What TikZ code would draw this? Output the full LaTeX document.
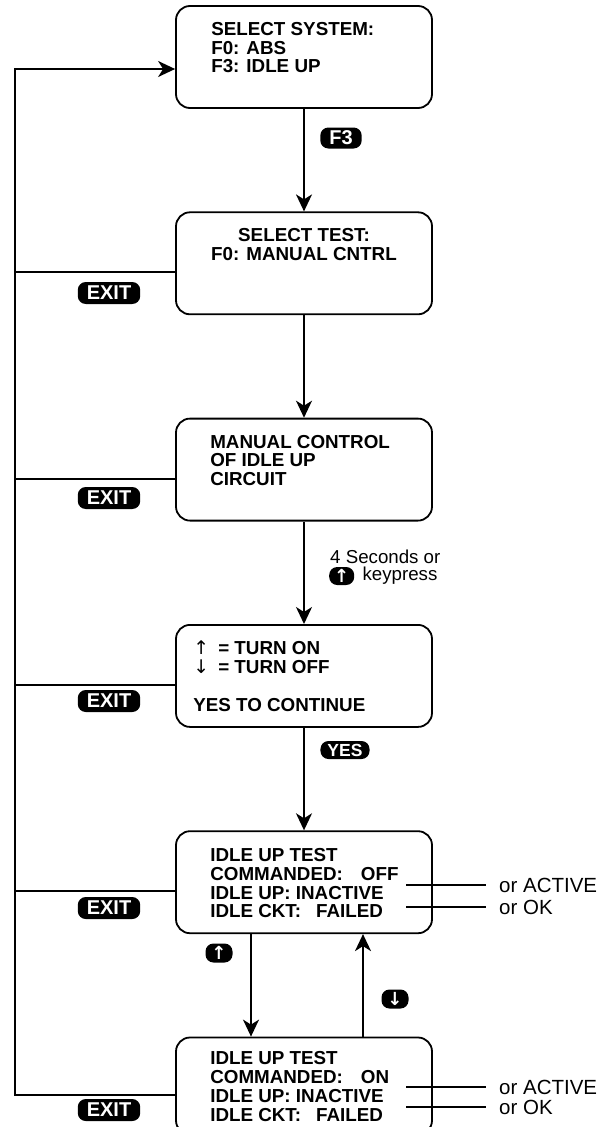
\documentclass[tikz,border=0pt]{standalone}
\usepackage{fontspec}
\setmainfont{Liberation Sans}
\newfontfamily\arrowfont{DejaVu Sans}
\usetikzlibrary{arrows.meta, positioning}

\newcommand{\scrfont}{\fontsize{18.8}{18.7}\selectfont\bfseries}

\begin{document}
\begin{tikzpicture}[
    x=1pt, y=-1pt,
    node distance=102.5pt,
    screen/.style={draw, line width=1.8pt, rounded corners=14pt, minimum width=256pt, minimum height=102pt},
    scrtxt/.style={font=\scrfont, align=left, inner sep=0pt},
    keycap/.style={fill=black, text=white, rounded corners=8pt, font=\fontsize{20}{20}\selectfont\bfseries, inner xsep=9pt, inner ysep=0pt, minimum height=22pt},
    arrowkey/.style={fill=black, text=white, rounded corners=8pt, font=\arrowfont\bfseries\fontsize{18}{18}\selectfont, inner sep=0pt, minimum width=27pt, minimum height=19pt},
    sidenote/.style={font=\fontsize{18.7}{18.7}\selectfont, inner sep=0pt},
    orlbl/.style={font=\fontsize{20.5}{20.5}\selectfont, anchor=west, inner xsep=13pt, inner ysep=0pt},
    arr/.style={-{Stealth[length=17pt, width=16pt, inset=5pt]}, line width=1.8pt},
    wire/.style={line width=1.8pt},
    leader/.style={line width=1.1pt}
]
    \useasboundingbox (0,0) rectangle (599,1127);

    % screens
    \node[screen, label={[scrtxt, anchor=north west, xshift=36pt, yshift=-17pt]north west:{SELECT SYSTEM:\\F0: ABS\\F3: IDLE UP}}] (sys) at (304,57) {};
    \node[screen, below=of sys, label={[scrtxt, align=center, anchor=north, yshift=-17pt]north:{SELECT TEST:\\F0: MANUAL CNTRL}}] (sel) {};
    \node[screen, below=of sel, label={[scrtxt, anchor=north west, xshift=35pt, yshift=-17pt]north west:{MANUAL CONTROL\\OF IDLE UP\\CIRCUIT}}] (man) {};
    \node[screen, below=of man, label={[scrtxt, anchor=north west, xshift=18pt, yshift=-17pt]north west:{{\arrowfont\mdseries ↑}\hspace{4pt} = TURN ON\\{\arrowfont\mdseries ↓}\hspace{4pt} = TURN OFF\\[18.7pt]YES TO CONTINUE}}] (turn) {};
    \node[screen, below=of turn, label={[scrtxt, anchor=north west, xshift=35pt, yshift=-18pt]north west:{IDLE UP TEST\\COMMANDED:\hspace{18pt}OFF\\IDLE UP: INACTIVE\\IDLE CKT:\hspace{15pt}FAILED}}] (off) {};
    \node[screen, below=of off, minimum height=97pt, label={[scrtxt, anchor=north west, xshift=35pt, yshift=-15pt]north west:{IDLE UP TEST\\COMMANDED:\hspace{18pt}ON\\IDLE UP: INACTIVE\\IDLE CKT:\hspace{15pt}FAILED}}] (on) {};

    % keys
    \node[keycap, minimum height=21pt] (kf3) at (341,138) {F3};
    \node[keycap, font=\fontsize{17.5}{17.5}\selectfont\bfseries, inner xsep=7pt, minimum height=18pt] (kyes) at (345,750) {YES};
    \node[arrowkey] (kup) at (219,953) {↑};
    \node[arrowkey] (kdown) at (395,999) {↓};
    \node[keycap] (exsel) at (109,293) {EXIT};
    \node[keycap] (exman) at (109,498) {EXIT};
    \node[keycap] (exturn) at (109,701) {EXIT};
    \node[keycap] (exoff) at (109,908) {EXIT};
    \node[keycap] (exon) at (109,1110) {EXIT};

    \node[sidenote, anchor=west] (secs) at (330,557) {4 Seconds or};
    \node[arrowkey, minimum width=25pt, minimum height=18pt, anchor=west] (kpress) at (329,576) {↑};
    \node[sidenote, right=8pt of kpress] (kptext) {keypress};

    % flow
    \draw[arr] (sys) -- (sel);
    \draw[arr] (sel) -- (man);
    \draw[arr] (man) -- (turn);
    \draw[arr] (turn) -- (off);
    \draw[arr] ([xshift=-53pt]off.south) -- ([xshift=-53pt]on.north);
    \draw[arr] ([xshift=59pt]on.north) -- ([xshift=59pt]off.south);

    % exit loop
    \coordinate (rail) at (15,69);
    \draw[arr] ([yshift=-9pt]on.west) -| (rail) |- ([yshift=-12pt]sys.west);
    \draw[wire] ([yshift=-9pt]sel.west) -- ([yshift=-9pt]sel.west -| rail);
    \draw[wire] ([yshift=-9pt]man.west) -- ([yshift=-9pt]man.west -| rail);
    \draw[wire] ([yshift=-9pt]turn.west) -- ([yshift=-9pt]turn.west -| rail);
    \draw[wire] ([yshift=-9pt]off.west) -- ([yshift=-9pt]off.west -| rail);

    % alternatives
    \coordinate (offup) at (406,885);
    \coordinate (offckt) at (406,907);
    \coordinate (onup) at (406,1087);
    \coordinate (onckt) at (406,1107);
    \node[orlbl] (offact) at (486,885) {or ACTIVE};
    \node[orlbl] (offok) at (486,907) {or OK};
    \node[orlbl] (onact) at (486,1087) {or ACTIVE};
    \node[orlbl] (onok) at (486,1107) {or OK};
    \draw[leader] (offup) -- (offact.west);
    \draw[leader] (offckt) -- (offok.west);
    \draw[leader] (onup) -- (onact.west);
    \draw[leader] (onckt) -- (onok.west);
\end{tikzpicture}
\end{document}
